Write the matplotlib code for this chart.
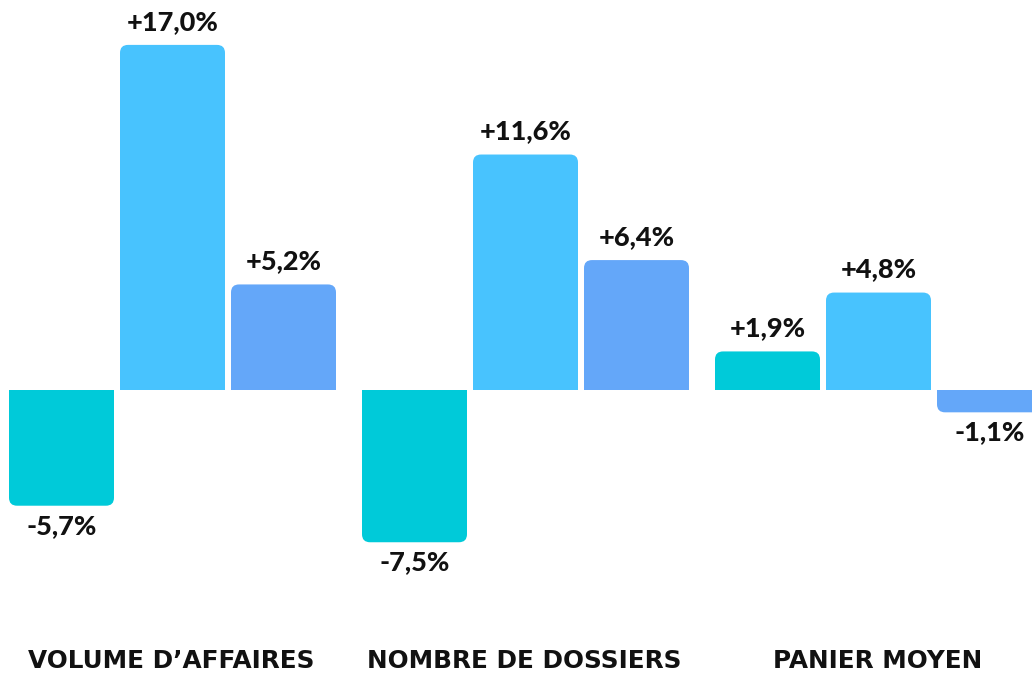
import matplotlib
matplotlib.use("Agg")
import matplotlib.pyplot as plt
from matplotlib.patches import FancyBboxPatch, Rectangle

categories = ["VOLUME D\u2019AFFAIRES", "NOMBRE DE DOSSIERS", "PANIER MOYEN"]
serie_a = [-5.7, -7.5, 1.9]
serie_b = [17.0, 11.6, 4.8]
serie_c = [5.2, 6.4, -1.1]
colors = ["#00CAD9", "#48C3FE", "#64A7F9"]

plt.rcParams['font.family'] = ['Lato', 'DejaVu Sans']

W, H = 1032, 673
fig = plt.figure(figsize=(W / 100, H / 100), dpi=100)
ax = fig.add_axes([0, 0, 1, 1])

# pixel geometry
px_group = 353.0
px_unit = 20.3
x0 = -172.5 / px_group
ax.set_xlim(x0, x0 + W / px_group)
ax.set_ylim(-(H - 390) / px_unit, 390 / px_unit)
ax.axis("off")

offset = 111 / px_group
width = 105 / px_group
rad = 8 / px_group
asp = px_group / px_unit

def fmt(v):
    s = ("+" if v > 0 else "-") + ("%.1f" % abs(v)).replace(".", ",") + "%"
    return s

for i in range(len(categories)):
    for j, (serie, c) in enumerate(zip([serie_a, serie_b, serie_c], colors)):
        v = serie[i]
        xc = i + (j - 1) * offset
        y = min(0, v)
        h = abs(v)
        ax.add_patch(FancyBboxPatch((xc - width / 2, y), width, h,
                                    boxstyle="round,pad=0,rounding_size=%f" % rad,
                                    mutation_aspect=asp, fc=c, ec="none"))
        ax.add_patch(Rectangle((xc - width / 2, 0 if v > 0 else v / 2), width, h / 2,
                               fc=c, ec="none"))
        if v > 0:
            ax.text(xc, v + 23 / px_unit, fmt(v), ha="center", va="center",
                    fontsize=19.5, fontweight="black", color="#111111")
        else:
            ax.text(xc, v - 20 / px_unit, fmt(v), ha="center", va="center",
                    fontsize=19.5, fontweight="black", color="#111111")
    ax.text(i - 1 / px_group, -(661 - 390) / px_unit, categories[i], ha="center", va="center",
            fontsize=17.8, fontweight="bold", color="#111111", family="DejaVu Sans")

fig.savefig("out.png", dpi=100)
